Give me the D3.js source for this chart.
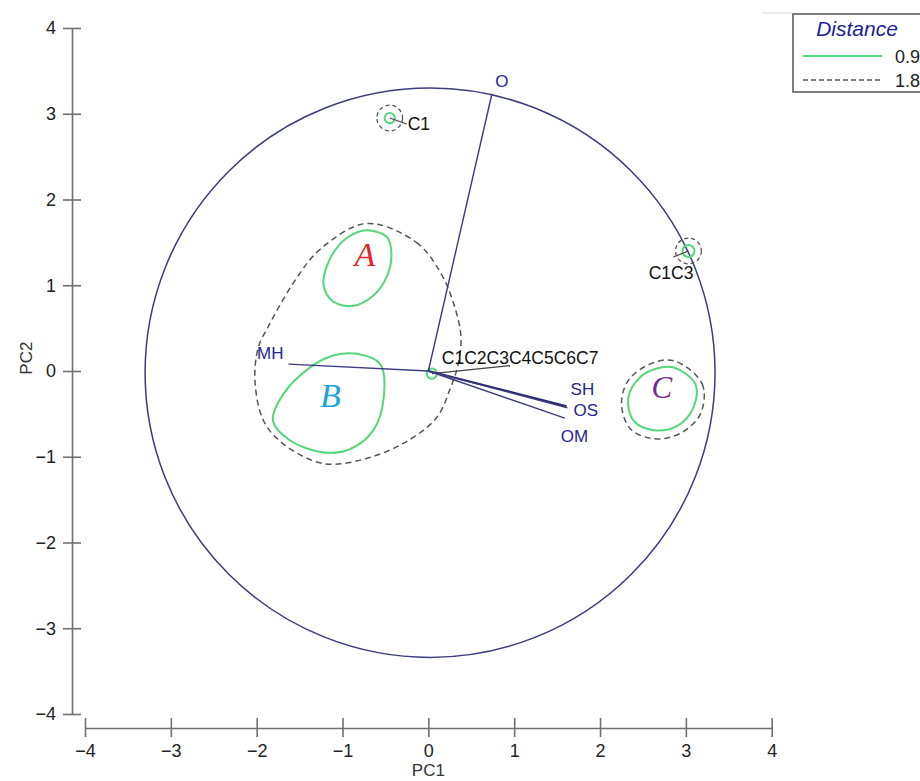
<!DOCTYPE html>
<html>
<head>
<meta charset="utf-8">
<script src="https://cdn.jsdelivr.net/npm/d3@7"></script>
<style>
  html, body { margin: 0; padding: 0; background: #fff; }
  svg { display: block; font-family: Arial, "Liberation Sans", sans-serif; }
</style>
</head>
<body>
<div class="graph"></div>
<script>
// --- data (PC units) ---
var pcTicks = [-4, -3, -2, -1, 0, 1, 2, 3, 4];

var circleCenter = [0.02, -0.02];
var circleRadius = 3.32;

var vectorNames = ['O', 'MH', 'SH', 'OS', 'OM'];
var vectorPC1 = [0.74, -1.63, 1.61, 1.62, 1.59];
var vectorPC2 = [3.23, 0.08, -0.41, -0.43, -0.55];

var clusterNames = ['C1', 'C1C3', 'C1C2C3C4C5C6C7'];
var clusterPC1 = [-0.45, 3.03, 0.04];
var clusterPC2 = [2.95, 1.40, -0.03];
var clusterR09 = [0.06, 0.07, 0.06];
var clusterR18 = [0.15, 0.15, 0];

var contourA09 = [[-0.70, 1.64], [-0.48, 1.56], [-0.43, 1.37], [-0.48, 1.11], [-0.64, 0.88],
    [-0.87, 0.76], [-1.11, 0.81], [-1.22, 1.00], [-1.18, 1.23], [-1.03, 1.48], [-0.87, 1.60]];
var contourB09 = [[-0.83, 0.20], [-0.56, 0.08], [-0.52, -0.31], [-0.64, -0.69], [-0.91, -0.91],
    [-1.22, -0.95], [-1.61, -0.81], [-1.81, -0.58], [-1.69, -0.27], [-1.38, 0.04], [-1.11, 0.18]];
var contourC09 = [[2.86, 0.04], [3.11, -0.15], [3.09, -0.42], [2.90, -0.64], [2.62, -0.69],
    [2.39, -0.58], [2.33, -0.31], [2.47, -0.07], [2.66, 0.03]];
var contourAB18 = [[-0.72, 1.72], [-0.14, 1.50], [0.14, 1.15], [0.29, 0.80], [0.38, 0.40],
    [0.34, 0.05], [0.26, -0.19], [0.10, -0.54], [-0.25, -0.82], [-0.72, -1.02], [-1.22, -1.08],
    [-1.69, -0.85], [-1.92, -0.58], [-2.02, -0.11], [-1.98, 0.28], [-1.88, 0.49], [-1.57, 1.03],
    [-1.26, 1.42]];
var contourC18 = [[2.86, 0.12], [3.19, -0.15], [3.17, -0.50], [2.93, -0.73], [2.62, -0.79],
    [2.35, -0.67], [2.25, -0.38], [2.33, -0.11], [2.58, 0.08]];

var groupNames = ['A', 'B', 'C'];
var groupPC1 = [-0.74, -1.14, 2.72];
var groupPC2 = [1.22, -0.42, -0.31];

var legendNames = ['0.9', '1.8'];

// --- drawing ---
var width = 920, height = 781;
var navy = '#3b3b7e';
var labelBlue = '#26268f';
var green = '#55d67a';
var dashGrey = '#555';
var axisGrey = '#707070';

var svg = d3.select('.graph').append('svg')
    .attr('width', width)
    .attr('height', height);

var x = d3.scaleLinear().domain([-4, 4]).range([85, 771.7]);
var y = d3.scaleLinear().domain([-4, 4]).range([714, 28]);

// axes
var xAxis = svg.append('g')
    .attr('transform', 'translate(0,728)')
    .call(d3.axisBottom(x).tickValues(pcTicks).tickSize(10).tickSizeOuter(0));
xAxis.selectAll('.tick line').attr('y1', -10).attr('y2', 9);
xAxis.selectAll('.tick text').attr('y', 16).attr('dy', '0.71em');

var yAxis = svg.append('g')
    .attr('transform', 'translate(72,0)')
    .call(d3.axisLeft(y).tickValues(pcTicks).tickSize(9).tickSizeOuter(0).tickPadding(7));
yAxis.selectAll('.tick line').attr('x1', -9).attr('x2', 9);

[xAxis, yAxis].forEach(function(a) {
    a.attr('font-size', null).attr('font-family', null);
    a.select('.domain').attr('stroke', axisGrey).attr('stroke-width', 1.6);
    a.selectAll('.tick line').attr('stroke', axisGrey).attr('stroke-width', 1.6);
    a.selectAll('.tick text')
        .attr('fill', '#222')
        .style('font-size', '18px');
});

svg.append('text')
    .attr('x', x(0))
    .attr('y', 776)
    .attr('text-anchor', 'middle')
    .attr('fill', '#333')
    .style('font-size', '17px')
    .text('PC1');

svg.append('text')
    .attr('transform', 'translate(32,' + y(0.15) + ') rotate(-90)')
    .attr('text-anchor', 'middle')
    .attr('fill', '#333')
    .style('font-size', '17px')
    .text('PC2');

// correlation circle
svg.append('ellipse')
    .attr('cx', x(circleCenter[0]))
    .attr('cy', y(circleCenter[1]))
    .attr('rx', x(circleRadius) - x(0))
    .attr('ry', y(0) - y(circleRadius))
    .attr('fill', 'none')
    .attr('stroke', navy)
    .attr('stroke-width', 1.5);

// contours
var contour = d3.line()
    .x(function(d) { return x(d[0]); })
    .y(function(d) { return y(d[1]); })
    .curve(d3.curveCatmullRomClosed.alpha(0.5));

[contourAB18, contourC18].forEach(function(c) {
    svg.append('path')
        .attr('d', contour(c))
        .attr('fill', 'none')
        .attr('stroke', dashGrey)
        .attr('stroke-width', 1.5)
        .attr('stroke-dasharray', '6,4');
});

[contourA09, contourB09, contourC09].forEach(function(c) {
    svg.append('path')
        .attr('d', contour(c))
        .attr('fill', 'none')
        .attr('stroke', green)
        .attr('stroke-width', 2);
});

// small clusters
var clusters = clusterNames.map(function(n, i) {
    return { name: n, x: clusterPC1[i], y: clusterPC2[i], r09: clusterR09[i], r18: clusterR18[i] };
});

// leader ends and label anchors relative to the cluster point, in px
var clusterLabel = {
    'C1': { lx: 17, ly: 6, tx: 18, ty: 12, anchor: 'start' },
    'C1C3': { lx: -15, ly: 6, tx: 5, ty: 28, anchor: 'end' },
    'C1C2C3C4C5C6C7': { lx: 78, ly: -8, tx: 10, ty: -10, anchor: 'start' }
};

clusters.forEach(function(d) {
    var cx = x(d.x), cy = y(d.y);
    var lab = clusterLabel[d.name];
    if (d.r18 > 0) {
        svg.append('circle')
            .attr('cx', cx).attr('cy', cy)
            .attr('r', x(d.r18) - x(0))
            .attr('fill', 'none')
            .attr('stroke', dashGrey)
            .attr('stroke-width', 1.3)
            .attr('stroke-dasharray', '4,3');
    }
    svg.append('circle')
        .attr('cx', cx).attr('cy', cy)
        .attr('r', x(d.r09) - x(0))
        .attr('fill', 'none')
        .attr('stroke', green)
        .attr('stroke-width', 2);
    svg.append('line')
        .attr('x1', cx).attr('y1', cy)
        .attr('x2', cx + lab.lx).attr('y2', cy + lab.ly)
        .attr('stroke', '#444')
        .attr('stroke-width', 1.2);
    svg.append('text')
        .attr('x', cx + lab.tx)
        .attr('y', cy + lab.ty)
        .attr('text-anchor', lab.anchor)
        .attr('fill', '#111')
        .style('font-size', '17.5px')
        .text(d.name);
});

// loading vectors
var vectors = vectorNames.map(function(n, i) {
    return { name: n, x: vectorPC1[i], y: vectorPC2[i] };
});

var vectorLabel = {
    'O': { dx: 10, dy: -7, anchor: 'middle' },
    'MH': { dx: -5, dy: -5, anchor: 'end' },
    'SH': { dx: 4, dy: -11, anchor: 'start' },
    'OS': { dx: 6, dy: 8, anchor: 'start' },
    'OM': { dx: -4, dy: 24, anchor: 'start' }
};

svg.selectAll('.vector')
    .data(vectors)
    .enter()
    .append('line')
    .attr('class', 'vector')
    .attr('x1', x(0)).attr('y1', y(0))
    .attr('x2', function(d) { return x(d.x); })
    .attr('y2', function(d) { return y(d.y); })
    .attr('stroke', function(d) { return d.name === 'SH' ? '#23236e' : navy; })
    .attr('stroke-width', function(d) { return d.name === 'SH' ? 2 : 1.4; });

svg.selectAll('.vector-label')
    .data(vectors)
    .enter()
    .append('text')
    .attr('class', 'vector-label')
    .attr('x', function(d) { return x(d.x) + vectorLabel[d.name].dx; })
    .attr('y', function(d) { return y(d.y) + vectorLabel[d.name].dy; })
    .attr('text-anchor', function(d) { return vectorLabel[d.name].anchor; })
    .attr('fill', labelBlue)
    .style('font-size', '17px')
    .text(function(d) { return d.name; });

// group letters
var groupColors = ['#e5232b', '#1aa6d6', '#7a2a8e'];
var groupSizes = [34, 34, 31];
svg.selectAll('.group-label')
    .data(groupNames)
    .enter()
    .append('text')
    .attr('class', 'group-label')
    .attr('x', function(d, i) { return x(groupPC1[i]); })
    .attr('y', function(d, i) { return y(groupPC2[i]); })
    .attr('text-anchor', 'middle')
    .attr('fill', function(d, i) { return groupColors[i]; })
    .style('font-family', '"Liberation Serif", "Times New Roman", serif')
    .style('font-style', 'italic')
    .style('font-size', function(d, i) { return groupSizes[i] + 'px'; })
    .text(function(d) { return d; });

// legend
svg.append('line')
    .attr('x1', 762).attr('x2', 793)
    .attr('y1', 13).attr('y2', 13)
    .attr('stroke', '#d6d6d6')
    .attr('stroke-width', 1);

svg.append('rect')
    .attr('x', 793).attr('y', 14)
    .attr('width', 200).attr('height', 78)
    .attr('fill', '#fff')
    .attr('stroke', '#555')
    .attr('stroke-width', 1.5);

svg.append('text')
    .attr('x', 857).attr('y', 36)
    .attr('text-anchor', 'middle')
    .attr('fill', '#1e1e96')
    .style('font-size', '21px')
    .style('font-style', 'italic')
    .text('Distance');

legendNames.forEach(function(n, i) {
    var ly = 56 + i * 24;
    svg.append('line')
        .attr('x1', 803).attr('x2', 882)
        .attr('y1', ly).attr('y2', ly)
        .attr('stroke', i === 0 ? green : dashGrey)
        .attr('stroke-width', i === 0 ? 2 : 1.3)
        .attr('stroke-dasharray', i === 0 ? null : '5,3');
    svg.append('text')
        .attr('x', 895).attr('y', ly + 7)
        .attr('fill', '#222')
        .style('font-size', '18px')
        .text(n);
});
</script>
</body>
</html>
